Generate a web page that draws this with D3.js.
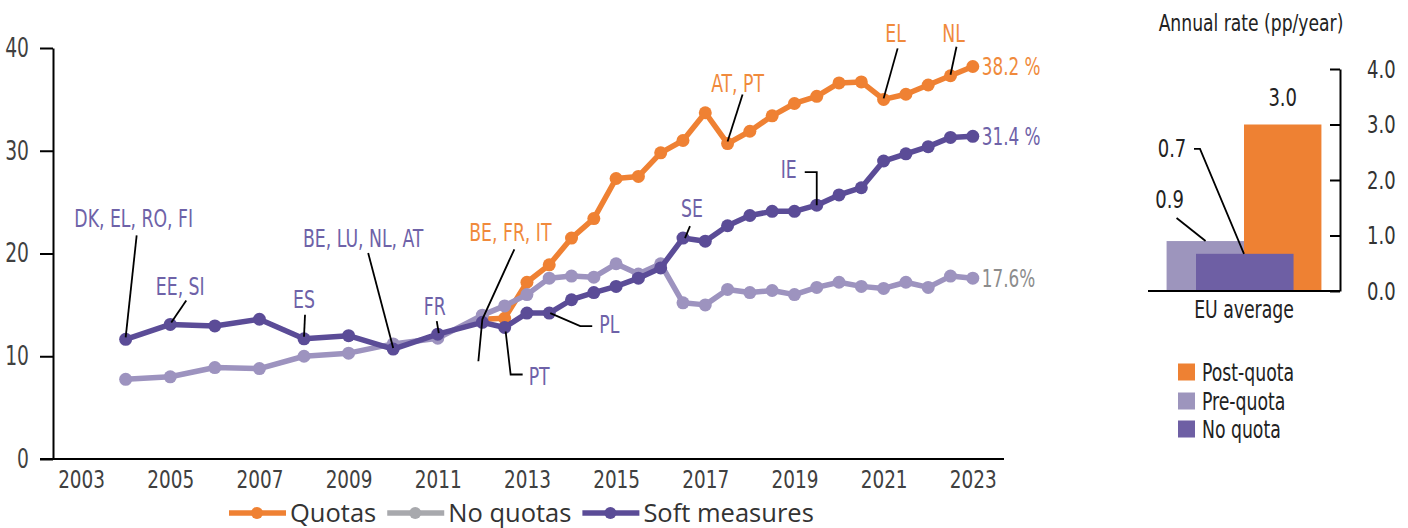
<!DOCTYPE html>
<html>
<head>
<meta charset="utf-8">
<script src="https://cdn.jsdelivr.net/npm/d3@7"></script>
<style>
body { margin: 0; background: #fff; }
svg text { font-family: "Liberation Sans Narrow", "DejaVu Sans Condensed", sans-serif; }
</style>
</head>
<body>
<svg id="chart" width="1408" height="528"></svg>
<script>
// ---- data ----
var softYears = [2004, 2005, 2006, 2007, 2008, 2009, 2010, 2011, 2012, 2012.5, 2013, 2013.5, 2014, 2014.5,
    2015, 2015.5, 2016, 2016.5, 2017, 2017.5, 2018, 2018.5, 2019, 2019.5, 2020, 2020.5, 2021, 2021.5,
    2022, 2022.5, 2023];
var softValues = [11.65, 13.1, 12.95, 13.6, 11.7, 12.0, 10.7, 12.15, 13.3, 12.8, 14.2, 14.2, 15.5, 16.2,
    16.8, 17.6, 18.6, 21.5, 21.2, 22.7, 23.7, 24.1, 24.1, 24.7, 25.7, 26.4, 29.0, 29.7,
    30.4, 31.3, 31.4];
var noQuotaValues = [7.75, 8.0, 8.9, 8.8, 10.0, 10.3, 11.2, 11.75, 14.0, 14.9, 16.0, 17.6, 17.8, 17.7,
    19.0, 18.0, 19.0, 15.2, 15.0, 16.5, 16.2, 16.4, 16.0, 16.7, 17.2, 16.8, 16.6, 17.2,
    16.7, 17.8, 17.6];
var quotaYears = [2012, 2012.5, 2013, 2013.5, 2014, 2014.5, 2015, 2015.5, 2016, 2016.5, 2017, 2017.5,
    2018, 2018.5, 2019, 2019.5, 2020, 2020.5, 2021, 2021.5, 2022, 2022.5, 2023];
var quotaValues = [13.6, 13.7, 17.2, 18.9, 21.5, 23.4, 27.3, 27.5, 29.8, 31.0, 33.7, 30.7,
    31.9, 33.4, 34.6, 35.3, 36.6, 36.7, 35.0, 35.5, 36.4, 37.3, 38.2];

var xTicks = [2003, 2005, 2007, 2009, 2011, 2013, 2015, 2017, 2019, 2021, 2023];
var yTicks = [0, 10, 20, 30, 40];

var endLabels = ["38.2 %", "17.6%", "31.4 %"];
var seriesNames = ["Quotas", "No quotas", "Soft measures"];

// annotations: series index, year, text, text offset, leader points relative to the point
var notes = [
    {s: 2, yr: 2004, t: "DK, EL, RO, FI", dx: 8, dy: -112, a: "middle", path: [[11, -104], [0, -2]]},
    {s: 2, yr: 2005, t: "EE, SI", dx: 10, dy: -29, a: "middle", path: [[16, -24], [1, -2]]},
    {s: 2, yr: 2008, t: "ES", dx: 0, dy: -31, a: "middle", path: [[1, -24], [0, -2]]},
    {s: 2, yr: 2010, t: "BE, LU, NL, AT", dx: -30, dy: -102, a: "middle", path: [[-25, -96], [0, -1]]},
    {s: 2, yr: 2011, t: "FR", dx: -3, dy: -19, a: "middle", path: [[-1, -13], [1, -1]]},
    {s: 0, yr: 2012, t: "BE, FR, IT", dx: 28, dy: -78, a: "middle", path: [[32, -70], [0, 0], [-4, 42]]},
    {s: 2, yr: 2012.5, t: "PT", dx: 24, dy: 58, a: "start", path: [[1, 4], [6, 47], [18, 47]]},
    {s: 2, yr: 2013.5, t: "PL", dx: 50, dy: 20, a: "start", path: [[1, 0], [31, 13], [43, 13]]},
    {s: 2, yr: 2016.5, t: "SE", dx: 9, dy: -21, a: "middle", path: [[7, -12], [2, 0]]},
    {s: 2, yr: 2019.5, t: "IE", dx: -20, dy: -27, a: "end", path: [[-12, -33], [0, -33], [0, 0]]},
    {s: 0, yr: 2017.5, t: "AT, PT", dx: 10, dy: -52, a: "middle", path: [[15, -49], [0, -2]]},
    {s: 0, yr: 2021, t: "EL", dx: 12, dy: -57, a: "middle", path: [[14, -51], [0, -1]]},
    {s: 0, yr: 2022.5, t: "NL", dx: 3, dy: -34, a: "middle", path: [[6, -29], [0, -1]]}
];

var rateGroups = ["EU average"];
var rateNames = ["Post-quota", "Pre-quota", "No quota"];
var rateValues = [3.0, 0.9, 0.67];
var rateTicks = [0, 1, 2, 3, 4];

// ---- colors ----
var lineColors = ["#ef8133", "#9d93bf", "#5b4c97"];
var legendColors = ["#ef8133", "#a8a9ad", "#5b4c97"];
var noteColors = ["#f08a3c", "#9d93bf", "#6e62a8"];
var endColors = ["#f08a3c", "#8c8c8c", "#6e62a8"];
var barColors = ["#ee8133", "#9d95bd", "#6e5fa4"];

// no narrow font installed, so squeeze the condensed one a bit more
function squeeze(sel, k) {
    sel.each(function() {
        var t = d3.select(this);
        var x = +t.attr("x") || 0;
        t.attr("x", x / k).attr("transform", "scale(" + k + ",1)");
    });
}

var svg = d3.select("#chart");

// ---- left line chart ----
var x = d3.scaleLinear().domain([2002.37, 2023.7]).range([53, 1004]);
var y = d3.scaleLinear().domain([0, 40]).range([459, 48]);

var series = [
    quotaYears.map(function(d, i) { return {yr: d, v: quotaValues[i]}; }),
    softYears.map(function(d, i) { return {yr: d, v: noQuotaValues[i]}; }),
    softYears.map(function(d, i) { return {yr: d, v: softValues[i]}; })
];

var yAxis = svg.append("g")
    .attr("transform", "translate(53,0)")
    .call(d3.axisLeft(y).tickValues(yTicks).tickSize(13).tickPadding(11).tickSizeOuter(0));
yAxis.select(".domain").attr("stroke", "#000").attr("stroke-width", 2);
yAxis.selectAll(".tick line").attr("stroke", "#000").attr("stroke-width", 2);
yAxis.selectAll("text").attr("font-size", 26).attr("fill", "#404040")
    .style("font-family", "'Liberation Sans Narrow', 'DejaVu Sans Condensed', sans-serif");
squeeze(yAxis.selectAll("text"), 0.8);

var xAxis = svg.append("g")
    .attr("transform", "translate(0,459)")
    .call(d3.axisBottom(x).tickValues(xTicks).tickFormat(d3.format("d")).tickSize(0).tickPadding(11));
xAxis.select(".domain").attr("d", "M40,0H1004").attr("stroke", "#000").attr("stroke-width", 2);
xAxis.selectAll("text").attr("font-size", 25).attr("fill", "#404040")
    .style("font-family", "'Liberation Sans Narrow', 'DejaVu Sans Condensed', sans-serif");
squeeze(xAxis.selectAll("text"), 0.82);

var line = d3.line().x(function(d) { return x(d.yr); }).y(function(d) { return y(d.v); });

series.forEach(function(s, i) {
    var g = svg.append("g");
    g.append("path")
        .attr("d", line(s))
        .attr("fill", "none")
        .attr("stroke", lineColors[i])
        .attr("stroke-width", 5.5)
        .attr("stroke-linejoin", "round");
    g.selectAll("circle")
        .data(s)
        .join("circle")
        .attr("cx", function(d) { return x(d.yr); })
        .attr("cy", function(d) { return y(d.v); })
        .attr("r", 6.5)
        .attr("fill", lineColors[i]);

    var last = s[s.length - 1];
    var t = g.append("text")
        .attr("x", x(last.yr) + 9)
        .attr("y", y(last.v))
        .attr("dy", "0.36em")
        .attr("font-size", 24)
        .attr("fill", endColors[i])
        .text(endLabels[i]);
    squeeze(t, 0.78);
});

// annotations
var noteG = svg.append("g");
notes.forEach(function(n) {
    var pt = series[n.s].find(function(d) { return d.yr === n.yr; });
    var px = x(pt.yr), py = y(pt.v);
    noteG.append("path")
        .attr("d", d3.line()(n.path.map(function(p) { return [px + p[0], py + p[1]]; })))
        .attr("fill", "none")
        .attr("stroke", "#000")
        .attr("stroke-width", 1.8);
    var t = noteG.append("text")
        .attr("x", px + n.dx)
        .attr("y", py + n.dy)
        .attr("text-anchor", n.a)
        .attr("font-size", 24)
        .attr("fill", noteColors[n.s])
        .text(n.t);
    squeeze(t, 0.8);
});

// bottom legend
var legX = 229;
var leg = svg.append("g").attr("transform", "translate(0,513)");
seriesNames.forEach(function(name, i) {
    leg.append("line")
        .attr("x1", legX).attr("x2", legX + 57)
        .attr("stroke", legendColors[i]).attr("stroke-width", 5.5);
    leg.append("circle").attr("cx", legX + 28).attr("r", 6).attr("fill", legendColors[i]);
    var t = leg.append("text")
        .attr("x", legX + 61)
        .attr("dy", "0.34em")
        .attr("font-size", 25.5)
        .attr("fill", "#333")
        .style("font-family", "'Open Sans', sans-serif")
        .text(name);
    legX += 61 + t.node().getComputedTextLength() + 11;
});

// ---- right bar chart ----
var x0 = d3.scaleBand().domain(rateGroups).range([1148, 1340]).paddingOuter(0.12).paddingInner(0);
var x1 = d3.scaleBand().domain(["Pre-quota", "Post-quota"]).range([0, x0.bandwidth()]);
var yr = d3.scaleLinear().domain([0, 4]).range([291, 69]);

var title = svg.append("text")
    .attr("x", 1251).attr("y", 31)
    .attr("text-anchor", "middle")
    .attr("font-size", 23)
    .attr("fill", "#222")
    .text("Annual rate (pp/year)");
squeeze(title, 0.83);

var rAxis = svg.append("g")
    .attr("transform", "translate(1340,0)")
    .call(d3.axisRight(yr).tickValues(rateTicks).tickFormat(d3.format(".1f")).tickSize(0).tickPadding(27).tickSizeOuter(0));
rAxis.select(".domain").attr("stroke", "#000").attr("stroke-width", 2);
rAxis.selectAll(".tick").append("line").attr("x1", -10).attr("x2", 0).attr("stroke", "#000").attr("stroke-width", 2);
rAxis.selectAll("text").attr("font-size", 25).attr("fill", "#333")
    .style("font-family", "'Liberation Sans Narrow', 'DejaVu Sans Condensed', sans-serif");
squeeze(rAxis.selectAll("text"), 0.8);

var bars = svg.append("g").attr("transform", "translate(" + x0("EU average") + ",0)");
var bw = x0.bandwidth();
// pre-quota and post-quota side by side, no-quota on top in the middle
var barSpec = [
    {i: 1, x: x1("Pre-quota"), w: x1.bandwidth()},
    {i: 0, x: x1("Post-quota"), w: x1.bandwidth()},
    {i: 2, x: bw * 0.19, w: bw * 0.63}
];
bars.selectAll("rect")
    .data(barSpec)
    .join("rect")
    .attr("x", function(d) { return d.x; })
    .attr("width", function(d) { return d.w; })
    .attr("y", function(d) { return yr(rateValues[d.i]); })
    .attr("height", function(d) { return yr(0) - yr(rateValues[d.i]); })
    .attr("fill", function(d) { return barColors[d.i]; });

svg.append("line")
    .attr("x1", 1148).attr("x2", 1340)
    .attr("y1", yr(0)).attr("y2", yr(0))
    .attr("stroke", "#000").attr("stroke-width", 2);

var euLab = svg.append("text")
    .attr("x", x0("EU average") + bw / 2).attr("y", 318)
    .attr("text-anchor", "middle").attr("font-size", 24).attr("fill", "#222")
    .text("EU average");
squeeze(euLab, 0.8);

// value labels
var x0s = x0("EU average");
var postX = x0s + x1("Post-quota") + x1.bandwidth() / 2;
var valG = svg.append("g");
valG.append("text")
    .attr("x", postX).attr("y", yr(rateValues[0]) - 18)
    .attr("text-anchor", "middle")
    .text(d3.format(".1f")(rateValues[0]));

var preTop = yr(rateValues[1]);
var preX = x0s + x1("Pre-quota");
svg.append("path")
    .attr("d", d3.line()([[preX + 10, preTop - 23], [preX + 39, preTop]]))
    .attr("stroke", "#000").attr("stroke-width", 1.8).attr("fill", "none");
valG.append("text")
    .attr("x", preX + 3).attr("y", preTop - 33)
    .attr("text-anchor", "middle")
    .text(d3.format(".1f")(rateValues[1]));

var noTop = yr(rateValues[2]);
var noMid = x0s + bw / 2;
svg.append("path")
    .attr("d", d3.line()([[noMid - 50, noTop - 105], [noMid - 44, noTop - 105], [noMid, noTop]]))
    .attr("stroke", "#000").attr("stroke-width", 1.8).attr("fill", "none");
valG.append("text")
    .attr("x", noMid - 72).attr("y", noTop - 97)
    .attr("text-anchor", "middle")
    .text(d3.format(".1f")(rateValues[2]));
valG.selectAll("text").attr("font-size", 25).attr("fill", "#222");
squeeze(valG.selectAll("text"), 0.8);

// right legend
var rLeg = svg.append("g").attr("transform", "translate(1178,0)");
var legY = [372, 401, 429];
rateNames.forEach(function(name, i) {
    rLeg.append("rect")
        .attr("x", 0).attr("y", legY[i] - 8.5)
        .attr("width", 17).attr("height", 17)
        .attr("fill", barColors[i]);
    var t = rLeg.append("text")
        .attr("x", 24).attr("y", legY[i])
        .attr("dy", "0.36em")
        .attr("font-size", 24).attr("fill", "#222")
        .text(name);
    squeeze(t, 0.8);
});
</script>
</body>
</html>
